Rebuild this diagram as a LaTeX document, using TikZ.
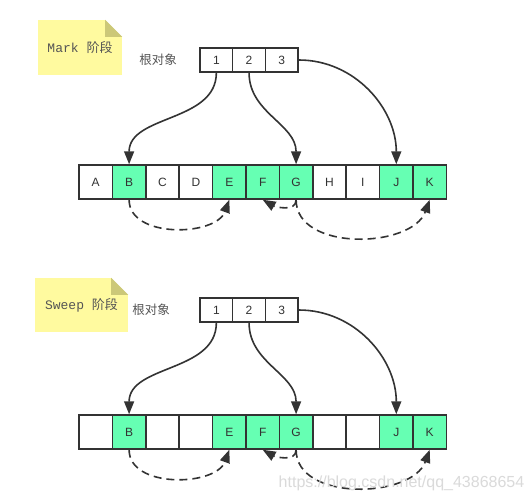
\documentclass[tikz,border=0pt]{standalone}
\usepackage{fontspec}
\setmainfont{Liberation Sans}
\setmonofont{Liberation Mono}
\newfontfamily\cjk{Noto Sans CJK SC}
\usetikzlibrary{arrows.meta,calc}
\definecolor{ink}{HTML}{333333}
\definecolor{live}{HTML}{66FFB3}
\definecolor{notebg}{HTML}{FFFA9F}
\definecolor{notefold}{HTML}{CCC878}
\definecolor{labelgray}{HTML}{555555}
\definecolor{wmgray}{HTML}{DADADA}
\tikzset{
  % one slot of the heap
  cell/.style={draw=ink, line width=1.5pt, fill=white,
    minimum width=33.4pt, minimum height=34pt, inner sep=0pt,
    text=ink, font=\fontsize{12}{14}\selectfont},
  % one slot of the root set
  rootcell/.style={cell, minimum width=32.7pt, minimum height=24pt},
  notebox/.style={fill=notebg, inner sep=0pt, text=labelgray,
    font=\fontsize{13}{15}\selectfont\ttfamily},
  rootlbl/.style={text=labelgray, font=\fontsize{12.5}{14}\selectfont\cjk},
  ref/.style={draw=ink, line width=1.6pt, -{Triangle[length=13pt,width=10pt]}},
  dref/.style={ref, dash pattern=on 8pt off 5pt},
  wmark/.style={text=wmgray, font=\fontsize{16}{18}\selectfont},
}
% sticky note with a folded top right corner
\newcommand{\stickynote}[5]{%
  \node[notebox, minimum width=#3, minimum height=#4] (#1) at (#2) {#5};
  \fill[white] (#1.north east) -- ++(-17,0) -- ++(17,-17) -- cycle;
  \fill[notefold] ($(#1.north east)+(-17,0)$) -- ++(0,-17) -- ++(17,0) -- cycle;}
% root set: three slots
\newcommand{\rootset}[2]{%
  \foreach \k in {1,2,3}
    \node[rootcell] (#1\k) at ({200+32.7*(\k-0.5)},#2) {\k};}
% heap row: name/text/fill
\newcommand{\heaprow}[3]{%
  \foreach \n/\t/\c [count=\i] in {#3}
    \node[cell, fill=\c] (#1\n) at ({79+33.4*(\i-0.5)},#2) {\t};}
% references: heap prefix, root prefix
\newcommand{\links}[2]{%
  \draw[ref] (#21.south) to[out=-90,in=90] (#1B.north);
  \draw[ref] (#22.south) to[out=-90,in=90] (#1G.north);
  \draw[ref] (#23.east) to[out=0,in=90] (#1J.north);
  \draw[dref] (#1B.south) to[out=-90,in=-110] (#1E.south);
  \draw[dref] (#1G.south) to[out=-90,in=-30] (#1F.south);
  \draw[dref] (#1G.south) to[out=-90,in=-110] (#1K.south);}

\begin{document}
\begin{tikzpicture}[x=1pt,y=1pt]
\useasboundingbox[fill=white] (0,0) rectangle (532,-501);

% ----- mark phase -----
\stickynote{marknote}{80,-47.5}{84pt}{55pt}{Mark {\cjk 阶段}}
\node[rootlbl] (marklbl) at (158,-60) {根对象};
\rootset{mr}{-60}
\heaprow{m}{-182}{A/A/white,B/B/live,C/C/white,D/D/white,E/E/live,F/F/live,
  G/G/live,H/H/white,I/I/white,J/J/live,K/K/live}
\links{m}{mr}

% ----- sweep phase -----
\stickynote{sweepnote}{81.5,-305}{93pt}{54pt}{Sweep {\cjk 阶段}}
\node[rootlbl] (sweeplbl) at (151,-310) {根对象};
\rootset{sr}{-310}
\heaprow{s}{-432}{A//white,B/B/live,C//white,D//white,E/E/live,F/F/live,
  G/G/live,H//white,I//white,J/J/live,K/K/live}
\links{s}{sr}

\node[wmark] (watermark) at (401.5,-483) {https://blog.csdn.net/qq\_43868654};
\end{tikzpicture}
\end{document}
